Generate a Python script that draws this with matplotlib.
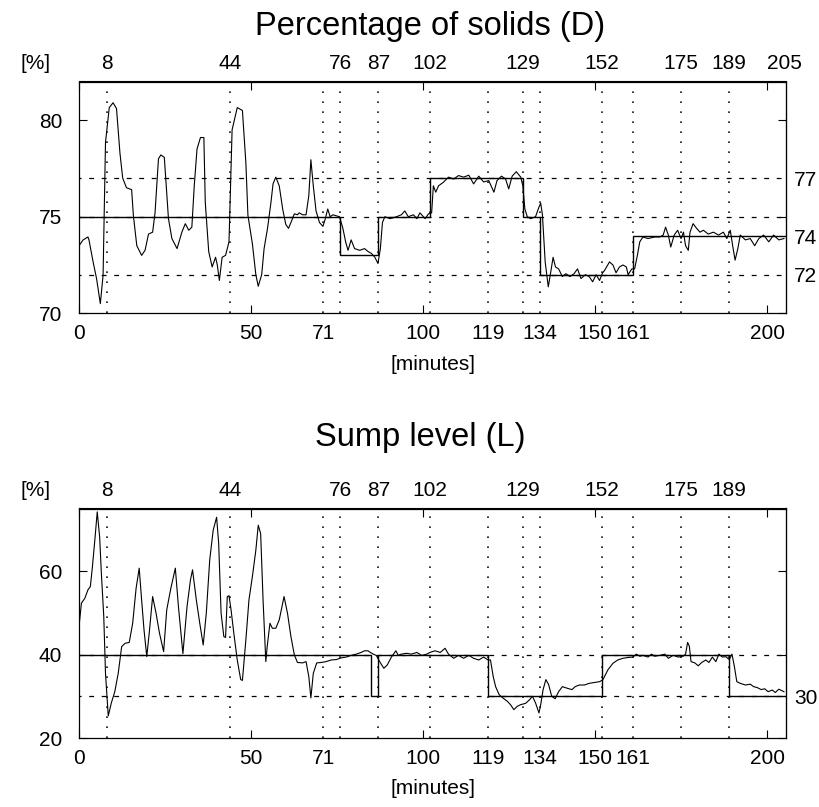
import matplotlib
matplotlib.use("Agg")
import matplotlib.pyplot as plt

plt.rcParams['font.family'] = ['Liberation Sans', 'DejaVu Sans']
plt.rcParams['lines.scale_dashes'] = False

# times of the set-point changes, marked by dotted verticals
events = [8, 44, 71, 76, 87, 102, 119, 129, 134, 152, 161, 175, 189]
x_major = [0, 50, 100, 150, 200]
x_extra = [71, 119, 134, 161]
top_ticks_D = [8, 44, 76, 87, 102, 129, 152, 175, 189, 205]
top_ticks_L = [8, 44, 76, 87, 102, 129, 152, 175, 189]

# percentage of solids: measured trace and set-point
D_time = [0, 1.2, 2.6, 2.9, 4.1, 5.1, 6.2, 7.0, 7.7, 8.8, 9.9, 10.9, 11.9, 12.7, 13.8,
          15.3, 15.8, 16.8, 18.2, 19.2, 20.2, 21.4, 22.1, 23.1, 23.8, 24.8, 26.0, 27.0,
          28.5, 29.9, 30.9, 31.9, 32.8, 33.5, 34.3, 35.3, 36.3, 36.7, 37.7, 38.7, 39.7,
          40.2, 40.8, 41.6, 42.6, 43.6, 44.5, 46.0, 47.5, 48.5, 49.1, 50.4, 51.4, 52.1,
          53.1, 53.8, 54.8, 55.8, 56.4, 57.2, 58.2, 59.2, 60.1, 60.9, 61.6, 62.6, 63.5,
          64.0, 65.0, 66.0, 66.8, 67.4, 68.1, 68.9, 69.9, 70.9, 71.6, 72.3, 73.0, 73.8,
          74.8, 75.7, 76.7, 77.5, 78.2, 79.1, 80.1, 81.6, 83.0, 84.0, 85.0, 86.0, 86.9,
          87.6, 88.2, 88.9, 90.4, 92.3, 93.7, 94.7, 95.7, 97.2, 98.2, 99.1, 100.6, 101.6,
          102.5, 103.0, 103.7, 104.5, 105.9, 107.4, 108.9, 110.3, 111.8, 113.3, 114.7,
          116.2, 117.6, 119.1, 120.6, 121.5, 122.8, 124.0, 124.9, 125.9, 127.1, 128.4,
          129.0, 129.6, 130.3, 131.3, 132.7, 133.7, 134.2, 134.7, 135.5, 136.4, 137.0,
          137.8, 138.5, 139.4, 140.5, 141.5, 142.7, 143.9, 144.9, 145.9, 147.2, 148.3,
          149.3, 150.3, 151.3, 152.2, 152.7, 154.2, 155.2, 156.1, 157.1, 158.1, 159.1,
          159.6, 160.7, 161.5, 162.3, 163.0, 163.9, 165.4, 167.3, 168.8, 169.8, 170.5,
          171.3, 172.0, 173.0, 174.0, 175.0, 175.7, 176.3, 177.1, 177.6, 178.5, 179.5,
          180.5, 181.5, 182.9, 184.4, 185.9, 187.3, 188.3, 189.3, 190.0, 190.7, 191.5,
          192.2, 193.7, 195.1, 196.4, 197.6, 199.0, 200.5, 201.9, 203.4, 204.9]
D_value = [73.5, 73.8, 73.95, 73.8, 72.66, 71.8, 70.5, 71.97, 78.85, 80.65, 80.9, 80.6,
           78.3, 77.0, 76.5, 76.4, 75.07, 73.5, 73.0, 73.26, 74.1, 74.2, 75.2, 78.0, 78.2,
           78.07, 74.9, 73.87, 73.35, 74.2, 74.64, 74.3, 74.46, 76.6, 78.5, 79.1, 79.1,
           75.75, 73.2, 72.4, 72.9, 72.5, 71.7, 72.9, 73.0, 73.7, 79.5, 80.65, 80.5, 77.8,
           75.07, 73.6, 72.0, 71.4, 72.0, 73.35, 74.4, 75.75, 76.7, 77.05, 76.6, 75.4,
           74.6, 74.4, 74.7, 75.15, 75.1, 75.2, 75.1, 75.1, 76.1, 77.95, 76.6, 75.3, 74.7,
           74.5, 74.9, 75.4, 75.0, 75.1, 75.05, 75.0, 74.4, 73.7, 73.26, 73.8, 73.35,
           73.26, 73.35, 73.2, 73.1, 72.9, 72.58, 73.35, 74.7, 75.0, 74.9, 75.0, 75.1,
           75.3, 75.0, 75.1, 74.9, 75.2, 74.9, 75.15, 75.2, 76.6, 76.27, 76.6, 76.78,
           77.05, 76.95, 77.13, 77.05, 77.15, 76.7, 77.1, 76.8, 76.87, 76.27, 76.87, 77.1,
           76.95, 76.44, 77.1, 77.33, 77.05, 76.6, 75.4, 75.0, 74.9, 75.0, 75.5, 75.7,
           75.1, 72.66, 71.37, 72.0, 72.9, 72.4, 72.3, 71.9, 72.05, 71.9, 72.05, 72.3,
           71.8, 72.0, 71.9, 71.63, 72.0, 71.7, 72.1, 72.2, 72.66, 72.5, 72.1, 72.4, 72.5,
           72.4, 72.0, 72.3, 72.3, 73.0, 73.7, 73.95, 73.87, 73.95, 73.95, 74.05, 74.46,
           74.05, 73.43, 74.05, 74.3, 73.87, 74.2, 73.5, 73.26, 74.2, 74.64, 74.4, 74.2,
           74.3, 74.1, 74.2, 74.05, 74.2, 73.87, 74.3, 73.5, 72.75, 73.35, 74.05, 73.8,
           73.87, 73.5, 73.87, 74.05, 73.7, 74.05, 73.8, 73.87]
D_sp_edges = [0, 76, 87, 102, 129, 134, 161, 205.5]
D_sp_values = [75, 73, 75, 77, 75, 72, 74]
D_levels = [72, 75, 77]
D_right = [72, 74, 77]

# sump level: measured trace and set-point
L_time = [0, 0.7, 1.7, 2.6, 3.3, 3.9, 4.6, 5.3, 6.0, 6.5, 7.2, 7.7, 8.5, 9.4, 10.4, 11.4,
          12.4, 13.4, 14.6, 15.6, 16.6, 17.5, 18.2, 18.9, 19.7, 20.5, 21.4, 22.4, 23.4,
          24.6, 25.5, 26.7, 28.0, 28.9, 30.2, 31.4, 32.4, 33.0, 34.1, 35.1, 36.1, 37.0,
          38.0, 39.0, 40.0, 40.6, 41.3, 42.1, 42.6, 43.1, 43.6, 44.2, 45.0, 46.0, 47.0,
          47.5, 48.5, 49.4, 50.4, 51.4, 52.1, 52.8, 53.5, 54.3, 54.7, 55.5, 56.2, 57.2,
          58.2, 59.6, 60.6, 61.6, 62.6, 63.5, 65.0, 66.0, 66.8, 67.4, 68.1, 69.1, 70.4,
          71.8, 73.3, 74.8, 76.2, 77.7, 79.1, 80.6, 82.0, 83.0, 84.0, 84.7, 85.5, 86.4,
          87.4, 88.6, 89.6, 90.8, 92.1, 92.8, 93.7, 95.2, 96.6, 98.2, 99.6, 101.1, 102.0,
          103.5, 105.0, 106.4, 107.4, 108.9, 110.3, 111.8, 113.3, 114.7, 116.2, 117.6,
          118.9, 119.6, 120.4, 121.1, 122.1, 123.2, 124.5, 125.4, 126.4, 127.4, 128.4,
          129.8, 131.0, 131.8, 132.7, 133.7, 134.2, 134.9, 135.7, 136.5, 137.4, 138.4,
          139.4, 140.5, 142.0, 143.3, 144.2, 145.4, 146.9, 148.3, 149.8, 151.3, 152.2,
          152.5, 153.7, 155.2, 156.6, 158.1, 159.6, 161.0, 162.0, 163.0, 163.9, 165.4,
          166.4, 167.3, 168.8, 170.3, 171.3, 172.7, 174.2, 175.6, 176.3, 176.9, 177.4,
          177.9, 179.0, 180.0, 181.0, 182.2, 183.1, 184.1, 185.1, 186.0, 187.0, 188.0,
          189.0, 189.8, 190.5, 191.2, 192.2, 193.7, 195.1, 196.1, 197.1, 198.3, 199.3,
          200.3, 201.5, 202.4, 203.4, 204.9]
L_value = [46.7, 52.3, 53.5, 55.5, 56.3, 61.05, 67.4, 74.2, 68.2, 59.5, 49.1, 35.5, 25.3,
           28.4, 31.1, 35.5, 41.9, 42.7, 42.9, 47.5, 55.9, 60.7, 53.1, 45.9, 39.5, 45.9,
           53.9, 49.9, 45.1, 40.7, 50.7, 55.9, 60.7, 51.5, 40.2, 51.5, 57.9, 60.3, 53.1,
           47.5, 42.3, 49.9, 62.7, 69.8, 72.9, 66.6, 49.9, 44.3, 44.1, 53.9, 54.1, 50.7,
           45.1, 38.7, 34.0, 33.8, 43.5, 53.1, 58.7, 65.0, 71.0, 69.0, 53.1, 38.3, 41.9,
           47.5, 46.3, 46.3, 48.3, 53.9, 49.9, 44.3, 39.9, 38.1, 38.0, 38.3, 34.7, 29.6,
           35.5, 38.0, 38.1, 38.3, 38.7, 38.8, 39.2, 39.4, 39.8, 40.1, 40.5, 40.9, 40.9,
           40.5, 40.1, 39.8, 38.3, 36.7, 37.5, 39.4, 40.9, 39.8, 40.1, 40.3, 40.1, 40.5,
           39.8, 40.1, 40.5, 40.9, 40.5, 41.5, 40.1, 39.1, 39.8, 39.1, 39.8, 39.1, 38.7,
           39.4, 38.7, 38.7, 34.7, 32.3, 30.4, 29.6, 28.8, 28.0, 26.8, 27.6, 28.0, 28.3,
           29.2, 30.0, 28.4, 26.0, 28.0, 31.6, 34.0, 32.8, 30.0, 29.4, 31.1, 32.3, 31.9,
           31.6, 32.3, 32.7, 32.7, 33.1, 33.3, 33.5, 33.9, 34.3, 36.3, 37.9, 38.7, 39.1,
           39.3, 39.4, 40.1, 39.6, 39.8, 39.4, 40.1, 39.6, 39.8, 40.1, 39.1, 39.8, 39.4,
           39.6, 40.1, 42.9, 42.0, 38.3, 38.0, 37.3, 38.1, 38.7, 38.1, 39.4, 38.3, 40.1,
           39.4, 39.5, 38.8, 40.1, 37.1, 33.5, 33.1, 32.7, 32.9, 32.3, 32.1, 31.6, 31.8,
           31.1, 31.5, 30.9, 31.7, 31.1]
L_sp_edges = [0, 85, 87, 119, 152, 189, 205.5]
L_sp_values = [40, 30, 40, 30, 40, 30]
L_levels = [30, 40]
L_right = [30]

W, H = 819, 807
fig = plt.figure(figsize=(W / 100, H / 100), dpi=100)


def box(left, top, right, bottom):
    return [left / W, 1 - bottom / H, (right - left) / W, (bottom - top) / H]


def panel(ax, t, v, sp_edges, sp_values, levels, ylim, yticks, right_ticks, top_ticks):
    ax.set_xlim(0, 205.5)
    ax.set_ylim(*ylim)
    for x in events:
        ax.axvline(x, color='k', lw=1.1, linestyle=(0, (1.2, 6.0)))
    for y in levels:
        ax.axhline(y, color='k', lw=0.9, linestyle=(2, (3.5, 5.5)))
    ax.stairs(sp_values, sp_edges, baseline=None, color='k', lw=1.0)
    ax.plot(t, v, color='k', lw=0.8)

    ax.set_xticks(x_major)
    ax.set_xticks(x_extra, minor=True)
    ax.set_xticklabels([str(x) for x in x_extra], minor=True)
    ax.set_yticks(yticks)
    ax.tick_params(axis='x', which='major', direction='in', top=True,
                   length=6, width=0.8, labelsize=15, pad=8)
    ax.tick_params(axis='x', which='minor', length=0, labelsize=15, pad=8)
    ax.tick_params(axis='y', direction='in', right=True,
                   length=6, width=0.8, labelsize=15, pad=12)
    for s in ax.spines.values():
        s.set_linewidth(0.9)

    top = ax.secondary_xaxis('top')
    top.set_xticks(top_ticks)
    top.tick_params(length=0, labelsize=15, pad=6)
    right = ax.secondary_yaxis('right')
    right.set_yticks(right_ticks)
    right.tick_params(length=0, labelsize=15, pad=6)

    ax.text(-0.062, 1.078, '[%]', transform=ax.transAxes, fontsize=15,
            ha='center', va='center')
    ax.set_xlabel('[minutes]', fontsize=15, labelpad=8)


ax1 = fig.add_axes(box(79, 81.5, 786, 313.3))
panel(ax1, D_time, D_value, D_sp_edges, D_sp_values, D_levels,
      (70, 82), [70, 75, 80], D_right, top_ticks_D)
ax2 = fig.add_axes(box(79, 508.5, 786, 738))
panel(ax2, L_time, L_value, L_sp_edges, L_sp_values, L_levels,
      (20, 75), [20, 40, 60], L_right, top_ticks_L)

fig.text(430 / W, 1 - 27 / H, 'Percentage of solids (D)', fontsize=23.5,
         ha='center', va='center')
fig.text(420 / W, 1 - 437 / H, 'Sump level (L)', fontsize=23.5,
         ha='center', va='center')

fig.savefig('out.png', dpi=100)
